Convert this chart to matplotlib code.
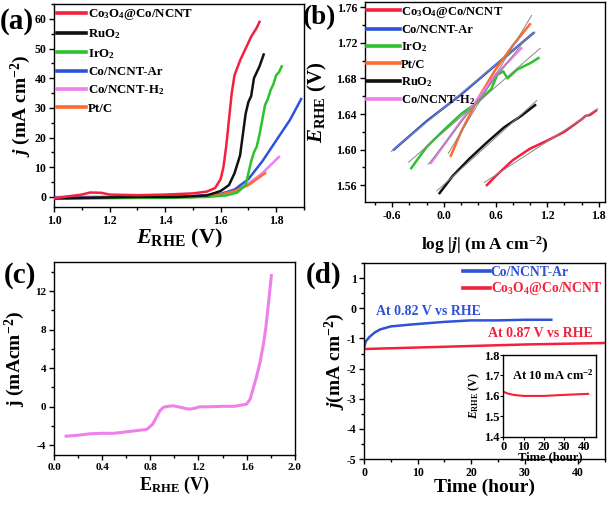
import numpy as np
import matplotlib
matplotlib.use("Agg")
import matplotlib.pyplot as plt
from matplotlib.ticker import MultipleLocator

plt.rcParams['font.family'] = ['Liberation Serif', 'DejaVu Serif']
plt.rcParams['font.weight'] = 'bold'
plt.rcParams['axes.labelweight'] = 'bold'
plt.rcParams['mathtext.fontset'] = 'custom'
plt.rcParams['mathtext.rm'] = 'Liberation Serif:bold'
plt.rcParams['mathtext.it'] = 'Liberation Serif:italic:bold'
plt.rcParams['mathtext.bf'] = 'Liberation Serif:bold'
plt.rcParams['axes.linewidth'] = 1.0
plt.rcParams['axes.unicode_minus'] = False

RED = '#f5203c'
BLACK = '#111111'
GREEN = '#2cc22c'
BLUE = '#2f52dc'
PINK = '#ee80ea'
ORANGE = '#ff6a30'

# ---- (a) LSV curves ----
a_red_x = [1.00, 1.05, 1.10, 1.13, 1.17, 1.20, 1.30, 1.40, 1.50, 1.55, 1.58, 1.60, 1.61, 1.62, 1.63, 1.64,
           1.65, 1.67, 1.69, 1.71, 1.73, 1.74]
a_red_y = [-0.5, 0.2, 0.8, 1.5, 1.4, 0.8, 0.6, 0.8, 1.2, 1.8, 3, 6, 10, 17, 26, 35, 41, 46, 50, 54, 57, 59]
a_black_x = [1.00, 1.30, 1.45, 1.55, 1.60, 1.63, 1.65, 1.67, 1.68, 1.69, 1.70, 1.71, 1.72, 1.74, 1.755]
a_black_y = [-0.5, 0, 0, 0.5, 2, 4, 8, 14, 21, 28, 32, 34, 40, 44, 48]
a_green_x = [1.00, 1.40, 1.55, 1.62, 1.66, 1.69, 1.70, 1.71, 1.72, 1.73, 1.74, 1.75, 1.76, 1.77, 1.78, 1.79,
             1.80, 1.81, 1.82]
a_green_y = [-0.5, -0.3, 0, 0.5, 1.5, 4, 8, 12, 15, 17, 21, 26, 31, 33, 36, 38, 41, 42, 44]
a_blue_x = [1.00, 1.50, 1.60, 1.65, 1.70, 1.75, 1.80, 1.85, 1.89]
a_blue_y = [-0.3, 0.2, 1.0, 2.5, 6, 12, 19, 26, 33]
a_pink_x = [1.00, 1.50, 1.60, 1.65, 1.70, 1.75, 1.81]
a_pink_y = [0, 0.3, 1.0, 2.0, 4.5, 8, 13.5]
a_orange_x = [1.00, 1.50, 1.60, 1.65, 1.70, 1.73, 1.76]
a_orange_y = [-0.5, 0, 0.8, 2, 4, 6, 8]

# ---- (b) Tafel plots ----
b_red_x = [0.50, 0.60, 0.80, 1.00, 1.20, 1.40, 1.60, 1.65, 1.70, 1.77]
b_red_y = [1.560, 1.570, 1.588, 1.601, 1.610, 1.620, 1.634, 1.638, 1.639, 1.644]
b_blue_x = [-0.58, -0.20, 0.20, 0.60, 1.04]
b_blue_y = [1.600, 1.632, 1.662, 1.695, 1.731]
b_green_x = [-0.38, -0.20, 0.00, 0.20, 0.40, 0.55, 0.62, 0.69, 0.74, 0.85, 1.00, 1.10]
b_green_y = [1.579, 1.603, 1.622, 1.640, 1.654, 1.668, 1.684, 1.688, 1.680, 1.690, 1.697, 1.703]
b_orange_x = [0.08, 0.20, 0.40, 0.60, 0.80, 1.00]
b_orange_y = [1.593, 1.620, 1.658, 1.690, 1.717, 1.741]
b_pink_x = [-0.15, 0.00, 0.20, 0.40, 0.60, 0.90]
b_pink_y = [1.585, 1.605, 1.632, 1.658, 1.684, 1.714]
b_black_x = [-0.05, 0.10, 0.30, 0.50, 0.70, 0.90, 1.06]
b_black_y = [1.551, 1.570, 1.590, 1.608, 1.625, 1.638, 1.650]

# ---- (c) full-range curve ----
c_x = [0.10, 0.20, 0.30, 0.40, 0.50, 0.60, 0.70, 0.77, 0.82, 0.85, 0.88, 0.91, 0.95, 0.99, 1.05, 1.10,
       1.13, 1.17, 1.21, 1.30, 1.40, 1.50, 1.60, 1.63, 1.65, 1.68, 1.71, 1.74, 1.76, 1.78, 1.806]
c_y = [-3.05, -2.95, -2.8, -2.75, -2.75, -2.6, -2.45, -2.35, -1.8, -1.1, -0.4, -0.05, 0.05, 0.1, -0.05,
       -0.2, -0.24, -0.15, 0.0, 0.0, 0.05, 0.05, 0.27, 0.8, 1.7, 3.0, 4.5, 6.5, 8.2, 10.5, 13.6]

# ---- (d) stability ----
d_blue_t = [0, 0.3, 1, 2, 3, 5, 8, 10, 15, 20, 25, 30, 35]
d_blue_j = [-1.3, -1.1, -0.95, -0.8, -0.7, -0.6, -0.55, -0.52, -0.45, -0.4, -0.4, -0.38, -0.38]
d_red_t = [0, 10, 20, 30, 45]
d_red_j = [-1.35, -1.3, -1.25, -1.2, -1.15]
inset_t = [0, 2, 5, 10, 15, 20, 30, 42]
inset_e = [1.62, 1.612, 1.605, 1.60, 1.60, 1.60, 1.605, 1.61]

fig = plt.figure(figsize=(6.14, 5.05), dpi=100)
axa = fig.add_axes([0.088, 0.590, 0.407, 0.402])
axb = fig.add_axes([0.594, 0.600, 0.391, 0.396])
axc = fig.add_axes([0.088, 0.099, 0.392, 0.382])
axd = fig.add_axes([0.593, 0.091, 0.392, 0.388])
axi = fig.add_axes([0.820, 0.135, 0.151, 0.162])


def style(ax, size=8.5):
    ax.tick_params(which='both', direction='out', labelsize=size, width=1.0, pad=2)
    ax.tick_params(which='major', length=3.5)
    ax.tick_params(which='minor', length=2.5)
    for lab in ax.get_xticklabels() + ax.get_yticklabels():
        lab.set_fontweight('bold')


# (a)
lw = 1.8
axa.plot(a_red_x, a_red_y, color=RED, lw=lw, label=r'Co$_3$O$_4$@Co/NCNT', zorder=6)
axa.plot(a_black_x, a_black_y, color=BLACK, lw=lw, label=r'RuO$_2$', zorder=5)
axa.plot(a_green_x, a_green_y, color=GREEN, lw=lw, label=r'IrO$_2$', zorder=4)
axa.plot(a_blue_x, a_blue_y, color=BLUE, lw=lw, label='Co/NCNT-Ar', zorder=3)
axa.plot(a_pink_x, a_pink_y, color=PINK, lw=lw, label=r'Co/NCNT-H$_2$', zorder=2)
axa.plot(a_orange_x, a_orange_y, color=ORANGE, lw=lw, label='Pt/C', zorder=3)
axa.set_xlim(1.0, 1.9)
axa.set_ylim(-3.4, 65)
axa.xaxis.set_major_locator(MultipleLocator(0.2))
axa.xaxis.set_minor_locator(MultipleLocator(0.1))
axa.yaxis.set_major_locator(MultipleLocator(10))
axa.yaxis.set_minor_locator(MultipleLocator(5))
axa.set_xlabel(r'$E_{\mathrm{RHE}}$ (V)', fontsize=16, labelpad=0.5)
axa.set_ylabel(r'$j$ (mA cm$^{-2}$)', fontsize=14)
axa.yaxis.set_label_coords(-0.085, 0.5)
axa.legend(loc='upper left', frameon=False, fontsize=9.3, handlelength=2.2, handletextpad=0.2,
           labelspacing=0.42, borderaxespad=0.15, borderpad=0.1)
for ln in axa.get_legend().get_lines():
    ln.set_linewidth(2.6)
style(axa)

# (b)
b_sets = [(b_red_x, b_red_y, RED, r'Co$_3$O$_4$@Co/NCNT'),
          (b_blue_x, b_blue_y, BLUE, 'Co/NCNT-Ar'),
          (b_green_x, b_green_y, GREEN, r'IrO$_2$'),
          (b_orange_x, b_orange_y, ORANGE, 'Pt/C'),
          (b_black_x, b_black_y, BLACK, r'RuO$_2$'),
          (b_pink_x, b_pink_y, PINK, r'Co/NCNT-H$_2$')]
for bx, by, col, lab in b_sets:
    axb.plot(bx, by, color=col, lw=lw, label=lab)
for bx, by, col, lab in b_sets:
    k, c0 = np.polyfit(bx, by, 1)
    xx = np.array([bx[0] - 0.03, bx[-1] + 0.02])
    axb.plot(xx, k * xx + c0, color='#888888', lw=0.7, zorder=5)
axb.set_xlim(-0.92, 1.87)
axb.set_ylim(1.541, 1.766)
axb.xaxis.set_major_locator(MultipleLocator(0.6))
axb.xaxis.set_minor_locator(MultipleLocator(0.2))
axb.yaxis.set_major_locator(MultipleLocator(0.04))
axb.yaxis.set_minor_locator(MultipleLocator(0.02))
axb.set_xlabel(r'log |$j$| (m A cm$^{-2}$)', fontsize=12.5, labelpad=9)
axb.set_ylabel(r'$E_{\mathrm{RHE}}$ (V)', fontsize=15)
axb.yaxis.set_label_coords(-0.15, 0.5)
axb.legend(loc='upper left', frameon=False, fontsize=9, handlelength=2.6, handletextpad=0.1,
           labelspacing=0.36, borderaxespad=0.1, borderpad=0.1)
for ln in axb.get_legend().get_lines():
    ln.set_linewidth(2.6)
style(axb)

# (c)
axc.plot(c_x, c_y, color=PINK, lw=2.2)
axc.set_xlim(0, 2.0)
axc.set_ylim(-5, 15)
axc.xaxis.set_major_locator(MultipleLocator(0.4))
axc.xaxis.set_minor_locator(MultipleLocator(0.2))
axc.yaxis.set_major_locator(MultipleLocator(4))
axc.yaxis.set_minor_locator(MultipleLocator(2))
axc.set_xlabel(r'E$_{\mathrm{RHE}}$ (V)', fontsize=13, labelpad=2)
axc.set_ylabel(r'j (mAcm$^{-2}$)', fontsize=14, labelpad=6)
style(axc, 8)

# (d)
axd.plot(d_blue_t, d_blue_j, color=BLUE, lw=lw, label='Co/NCNT-Ar')
axd.plot(d_red_t, d_red_j, color=RED, lw=lw, label=r'Co$_3$O$_4$@Co/NCNT')
axd.set_xlim(0, 45)
axd.set_ylim(-5, 1.5)
axd.xaxis.set_major_locator(MultipleLocator(10))
axd.xaxis.set_minor_locator(MultipleLocator(5))
axd.yaxis.set_major_locator(MultipleLocator(1))
axd.yaxis.set_minor_locator(MultipleLocator(0.5))
axd.set_xlabel('Time (hour)', fontsize=14, labelpad=0)
axd.set_ylabel(r'$j$(mA cm$^{-2}$)', fontsize=14, labelpad=0)
leg = axd.legend(loc='upper right', frameon=False, fontsize=9.8, handlelength=2.0, handletextpad=0.05,
                 labelspacing=0.12, borderaxespad=0.0, borderpad=0.2)
for ln, txt in zip(leg.get_lines(), leg.get_texts()):
    ln.set_linewidth(2.6)
    txt.set_color(ln.get_color())
axd.text(2.3, -0.11, 'At 0.82 V vs RHE', color=BLUE, fontsize=10, fontweight='bold', va='center')
axd.text(23.2, -0.83, 'At 0.87 V vs RHE', color=RED, fontsize=10, fontweight='bold', va='center')
style(axd)

axi.plot(inset_t, inset_e, color=RED, lw=1.5)
axi.set_xlim(0, 46)
axi.set_ylim(1.4, 1.8)
axi.xaxis.set_major_locator(MultipleLocator(10))
axi.yaxis.set_major_locator(MultipleLocator(0.1))
axi.set_xlabel('Time (hour)', fontsize=9, labelpad=-1)
axi.set_ylabel(r'$E_{\mathrm{RHE}}$ (V)', fontsize=8.5, labelpad=1)
axi.text(4, 1.7, r'At 10 mA cm$^{-2}$', fontsize=9, fontweight='bold', va='center')
axi.tick_params(direction='out', length=2, labelsize=9, pad=1)
for lab in axi.get_xticklabels() + axi.get_yticklabels():
    lab.set_fontweight('bold')

# panel letters
fig.text(0.0, 0.985, '(a)', fontsize=21, fontweight='bold', va='top')
fig.text(0.493, 0.99, '(b)', fontsize=19.5, fontweight='bold', va='top')
fig.text(0.006, 0.482, '(c)', fontsize=21, fontweight='bold', va='top')
fig.text(0.498, 0.482, '(d)', fontsize=21, fontweight='bold', va='top')

fig.savefig('out.png', dpi=100)
